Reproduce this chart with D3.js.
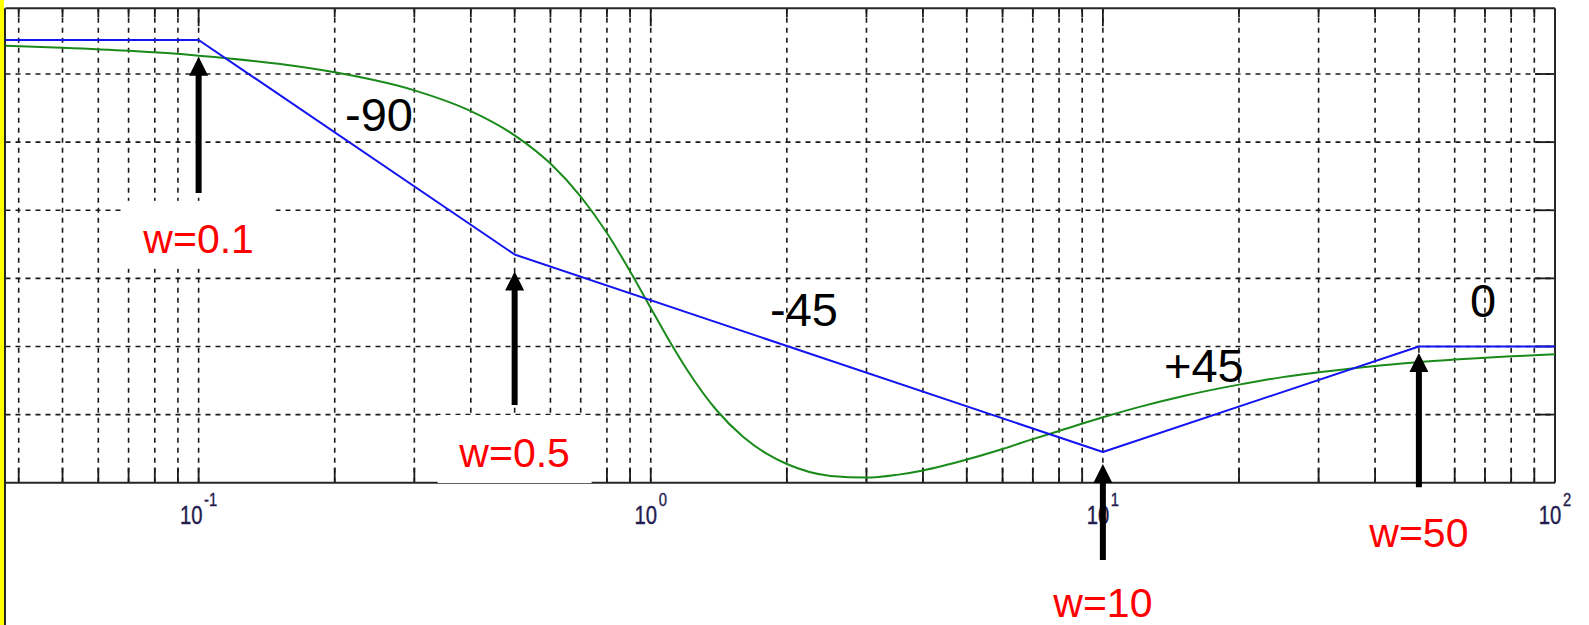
<!DOCTYPE html>
<html>
<head>
<meta charset="utf-8">
<script src="https://cdn.jsdelivr.net/npm/d3@7"></script>
<style>
  html, body { margin: 0; padding: 0; background: #ffffff; overflow: hidden; }
  svg { display: block; }
</style>
</head>
<body>
<svg id="chart" width="1589" height="625"></svg>
<script>
// Bode phase plot: straight-line asymptote versus exact phase curve.
// Frequencies in rad/s, phase in degrees.

const asymptoteW     = [0.0374, 0.1, 0.5, 10, 50, 100];
const asymptotePhase = [0, 0, -63, -121, -90, -90];

const exactW = [0.0374, 0.05, 0.07, 0.1, 0.15, 0.2, 0.3, 0.4, 0.5, 0.6, 0.7, 0.8, 0.9,
                1.0, 1.1, 1.2, 1.4, 1.6, 1.8, 2.0, 2.5, 3.0, 3.5, 4, 5, 6, 7, 8,
                10, 12, 15, 20, 25, 30, 40, 50, 60, 70, 80, 100];
const exactPhase = [-1.7, -2.3, -3.2, -4.6, -7.0, -9.5, -14.8, -20.9, -28.0, -36.3, -46.0, -56.7, -67.9,
                    -78.7, -88.4, -96.6, -108.8, -116.5, -121.4, -124.5, -128.0, -128.5, -127.7, -126.4, -123.2, -120.1, -117.2, -114.8,
                    -110.8, -107.8, -104.6, -101.2, -99.0, -97.6, -95.7, -94.6, -93.8, -93.3, -92.9, -92.3];

const decadeTicks     = [0.1, 1, 10, 100];
const decadeExponents = ["-1", "0", "1", "2"];
const phaseGrid       = [-110, -90, -70, -50, -30, -10];

// Corner frequencies marked with arrows
const breakW        = [0.1, 0.5, 10, 50];
const breakLabels   = ["w=0.1", "w=0.5", "w=10", "w=50"];
const arrowTip      = [-4.9, -68.0, -124.5, -91.9];
const arrowTail     = [-44.9, -107.2, -152.7, -131.3];
const labelBaseline = [-62.5, -125.4, -169.4, -148.9];

// Slope annotations (deg/decade)
const slopeTexts = ["-90", "-45", "+45", "0"];
const slopeW     = [0.2108, 1.836, 13.65, 64.86];
const slopePhase = [-26.7, -84.0, -100.4, -81.3];

const W = 1589, H = 625;
const plot = { left: 5.5, right: 1555, top: 8.3, bottom: 482.7 };

const svg = d3.select("#chart");

const x = d3.scaleLog().domain([0.0374, 100]).range([plot.left, plot.right]);
const y = d3.scaleLinear().domain([-130, 9.3]).range([plot.bottom, plot.top]);

svg.append("rect").attr("width", W).attr("height", H).attr("fill", "#ffffff");
svg.append("rect").attr("x", 0).attr("y", 0).attr("width", 4).attr("height", H).attr("fill", "#ffff00");

// Minor/major positions on the log axis
const logTicks = x.ticks(40).filter(v => v > x.domain()[0] && v < x.domain()[1]);

const grid = svg.append("g")
  .attr("stroke", "#1a1a1a").attr("stroke-width", 1.6).attr("stroke-dasharray", "5,5");

grid.selectAll("line.v").data(logTicks).join("line")
  .attr("class", "v")
  .attr("x1", d => x(d)).attr("x2", d => x(d))
  .attr("y1", plot.bottom).attr("y2", plot.top);

grid.selectAll("line.h").data(phaseGrid).join("line")
  .attr("class", "h")
  .attr("x1", plot.left).attr("x2", plot.right)
  .attr("y1", d => y(d)).attr("y2", d => y(d));

// Solid tick marks
const ticks = svg.append("g").attr("stroke", "#1a1a1a").attr("stroke-width", 1.8);
ticks.selectAll("line.b").data(logTicks).join("line")
  .attr("x1", d => x(d)).attr("x2", d => x(d))
  .attr("y1", plot.bottom).attr("y2", plot.bottom - 15);
ticks.selectAll("line.t").data(logTicks).join("line")
  .attr("x1", d => x(d)).attr("x2", d => x(d))
  .attr("y1", plot.top).attr("y2", d => plot.top + (decadeTicks.includes(d) ? 18 : 9));
ticks.selectAll("line.r").data(phaseGrid).join("line")
  .attr("x1", plot.right - 20).attr("x2", plot.right)
  .attr("y1", d => y(d)).attr("y2", d => y(d));

// Frame
const frame = svg.append("g").attr("stroke", "#262626").attr("stroke-width", 2).attr("fill", "none");
frame.append("line").attr("x1", plot.left).attr("x2", plot.right).attr("y1", plot.bottom).attr("y2", plot.bottom);
frame.append("line").attr("x1", plot.left).attr("x2", plot.right).attr("y1", plot.top).attr("y2", plot.top);
frame.append("line").attr("x1", plot.right).attr("x2", plot.right).attr("y1", plot.top).attr("y2", plot.bottom);
frame.append("line").attr("x1", 5).attr("x2", 5).attr("y1", plot.top).attr("y2", H);

// Decade labels 10^n
const tickLab = svg.append("g")
  .style("font-family", "'Liberation Sans', Arial, sans-serif")
  .attr("fill", "#231c4e").attr("stroke", "#231c4e").attr("stroke-width", 0.4);
decadeTicks.forEach((v, i) => {
  const t = tickLab.append("text")
    .attr("transform", `translate(${x(v)},${plot.bottom + 41}) scale(0.78,1)`)
    .attr("text-anchor", "middle")
    .style("font-size", "26px");
  t.append("tspan").style("font-size", "26px").text("10");
  t.append("tspan").style("font-size", "19px").attr("dy", -18).attr("dx", 2).text(decadeExponents[i]);
});

// White label panels
const boxes = svg.append("g");
breakW.forEach((w, i) => {
  boxes.append("rect")
    .attr("x", x(w) - 77).attr("y", y(labelBaseline[i]) - 52)
    .attr("width", 154).attr("height", 68)
    .attr("fill", "#ffffff");
});

// Curves
const lineGen = d3.line().x(d => x(d[0])).y(d => y(d[1]));
const exactLine = d3.line().x(d => x(d[0])).y(d => y(d[1])).curve(d3.curveMonotoneX);

svg.append("path")
  .datum(exactW.map((w, i) => [w, exactPhase[i]]))
  .attr("d", exactLine)
  .attr("fill", "none").attr("stroke", "#1a8a1a").attr("stroke-width", 2);

svg.append("path")
  .datum(asymptoteW.map((w, i) => [w, asymptotePhase[i]]))
  .attr("d", lineGen)
  .attr("fill", "none").attr("stroke", "#1414f0").attr("stroke-width", 2)
  .attr("stroke-linejoin", "round");

// Slope labels
svg.append("g")
  .attr("font-family", "'Liberation Sans', Arial, sans-serif")
  .attr("font-size", 47).attr("fill", "#000000")
  .selectAll("text").data(slopeTexts).join("text")
  .attr("x", (d, i) => x(slopeW[i])).attr("y", (d, i) => y(slopePhase[i]))
  .text(d => d);

// Arrows
const arrows = svg.append("g").attr("fill", "#000000");
breakW.forEach((w, i) => {
  const cx = x(w), tip = y(arrowTip[i]), tail = y(arrowTail[i]);
  const hl = 19, hw = 9.5, sw = 3;
  arrows.append("path").attr("d",
    `M${cx},${tip} L${cx + hw},${tip + hl} L${cx + sw},${tip + hl} L${cx + sw},${tail}` +
    ` L${cx - sw},${tail} L${cx - sw},${tip + hl} L${cx - hw},${tip + hl} Z`);
});

// Corner frequency labels
svg.append("g")
  .attr("font-family", "'Liberation Sans', Arial, sans-serif")
  .attr("font-size", 41).attr("fill", "#ff0000")
  .selectAll("text").data(breakLabels).join("text")
  .attr("x", (d, i) => x(breakW[i]))
  .attr("y", (d, i) => y(labelBaseline[i]))
  .attr("text-anchor", "middle")
  .text(d => d);
</script>
</body>
</html>
